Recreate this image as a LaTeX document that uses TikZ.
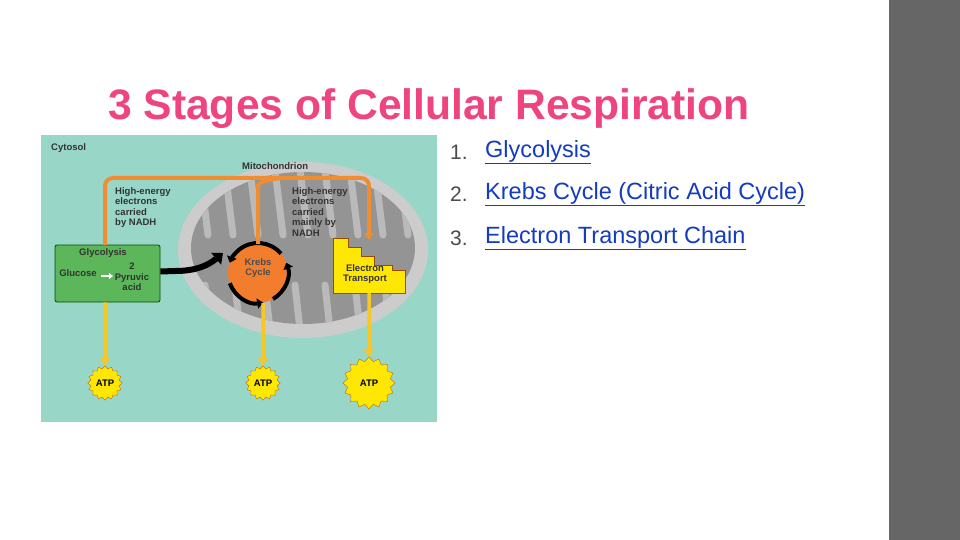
\documentclass[tikz,border=0pt]{standalone}
\usepackage{fontspec}
\setmainfont{Liberation Sans}
\usetikzlibrary{shapes.geometric,shapes.misc,arrows.meta}
\definecolor{teal1}{RGB}{152,214,200}
\definecolor{pinkt}{RGB}{238,68,128}
\definecolor{orangea}{RGB}{240,140,50}
\definecolor{yellowa}{RGB}{245,200,40}
\definecolor{greenb}{RGB}{92,182,90}
\definecolor{linkb}{RGB}{20,60,190}
\tikzset{lab/.style={font=\bfseries\fontsize{9.5}{10.5}\selectfont,text=black!80,align=left,inner sep=0},
 item/.style={anchor=west,font=\fontsize{23.5}{26}\selectfont,text=linkb,inner sep=0},
 num/.style={anchor=west,font=\fontsize{21}{26}\selectfont,text=black!70,inner sep=0},
 atp/.style={star,star points=16,star point ratio=1.2,fill=yellow!90!orange,draw=orange!80!black,font=\bfseries\fontsize{9.5}{11}\selectfont,inner sep=1pt},
 oarr/.style={draw=orangea,line width=4pt,-{Triangle[length=7pt,width=10pt]}},
 yarr/.style={draw=yellowa,line width=3.5pt,-{Triangle[length=7pt,width=10pt]}}}
\begin{document}
\begin{tikzpicture}[x=1pt,y=-1pt]
\useasboundingbox (0,0) rectangle (960,540);
\fill[white] (0,0) rectangle (960,540);
\fill[black!60] (889,0) rectangle (960,540);
\node[anchor=base west,inner sep=0,text=pinkt,font=\bfseries\fontsize{42.6}{46}\selectfont] (title) at (108,120) {3 Stages of Cellular Respiration};
\fill[teal1] (41,135) rectangle (437,422);
% mitochondrion
\fill[black!20] (303,250) ellipse (125 and 88);
\fill[black!42] (303,248) ellipse (112 and 76);
\begin{scope}
\clip (303,248) ellipse (112 and 76);
\foreach \x in {200,225,250,275,300,325,350,375,400}
  \draw[black!27,line width=7pt,line cap=round] (\x,170) -- (\x+8,235);
\foreach \x in {210,240,270,300,330,360,390}
  \draw[black!27,line width=7pt,line cap=round] (\x,330) -- (\x-5,285);
\end{scope}
\node[lab,anchor=west] (cyt) at (51,148) {Cytosol};
\node[lab,anchor=west] (mito) at (242,166) {Mitochondrion};
% glycolysis box
\node[draw=green!30!black,fill=greenb,rounded corners=2pt,minimum width=105pt,minimum height=57pt,line width=0.8pt] (gly) at (107.5,273.5) {};
\node[lab] (glyt) at (103,253) {Glycolysis};
\node[lab] (glu) at (78,273) {Glucose};
\node[lab,align=center] (pyr) at (132,277) {2\\Pyruvic\\acid};
\draw[white,line width=2.5pt,-{Triangle[length=4pt,width=6pt]}] (101,276) -- (113,276);
% krebs
\node[circle,fill=orangea!90!red,minimum size=60pt,inner sep=0] (krebs) at (258,273) {};
\node[lab,align=center,text=black!70] (kt) at (258,268) {Krebs\\Cycle};
\draw[line width=4pt,-{Triangle[length=6pt,width=10pt]}] (258,273) ++(160:30) arc (160:80:30);
\draw[line width=4pt,-{Triangle[length=6pt,width=10pt]}] (258,273) ++(60:30) arc (60:-20:30);
\draw[line width=4pt,-{Triangle[length=6pt,width=10pt]}] (258,273) ++(-40:30) arc (-40:-160:30);
% black arrow
\draw[line width=6pt,-{Triangle[length=9pt,width=15pt]}] (gly.east) ++(0,-2) -- (175,271) to[out=0,in=-140] (223,253);
% electron transport stair
\fill[yellow!90!orange,draw=orange!60!black,line width=0.5pt] (333,293) -- (333,238) -- (348,238) -- (348,247) -- (361,247) -- (361,256) -- (374,256) -- (374,265) -- (392,265) -- (392,270) -- (405,270) -- (405,293) -- cycle;
\node[lab,align=center] (et) at (365,274) {Electron\\Transport};
% orange arrows
\coordinate (o1) at (105,245);
\coordinate (o2) at (369,240);
\draw[oarr,rounded corners=8pt] (o1) -- (105,178) -- (369,178) -- (o2);
\draw[draw=orangea,line width=4pt,rounded corners=10pt] (258,244) -- (258,195) to[out=90,in=180] (285,178);
\node[lab,anchor=north west] (nl) at (115,187) {High-energy\\electrons\\carried\\by NADH};
\node[lab,anchor=north west] (nr) at (292,187) {High-energy\\electrons\\carried\\mainly by\\NADH};
% ATP
\node[atp,minimum size=31pt] (a1) at (105,383) {ATP};
\node[atp,minimum size=31pt] (a2) at (263,383) {ATP};
\node[atp,minimum size=52pt] (a3) at (369,383) {ATP};
\draw[yarr] (gly.south -| a1) -- (a1.north);
\draw[yarr] (263,303) -- (a2.north);
\draw[yarr] (369,293) -- (a3.north);
% list
\node[num] (n1) at (450,152) {1.}; \node[item] (i1) at (485,152) {\underline{Glycolysis}};
\node[num] (n2) at (450,194) {2.}; \node[item] (i2) at (485,194) {\underline{Krebs Cycle (Citric Acid Cycle)}};
\node[num] (n3) at (450,238) {3.}; \node[item] (i3) at (485,238) {\underline{Electron Transport Chain}};
\end{tikzpicture}
\end{document}
